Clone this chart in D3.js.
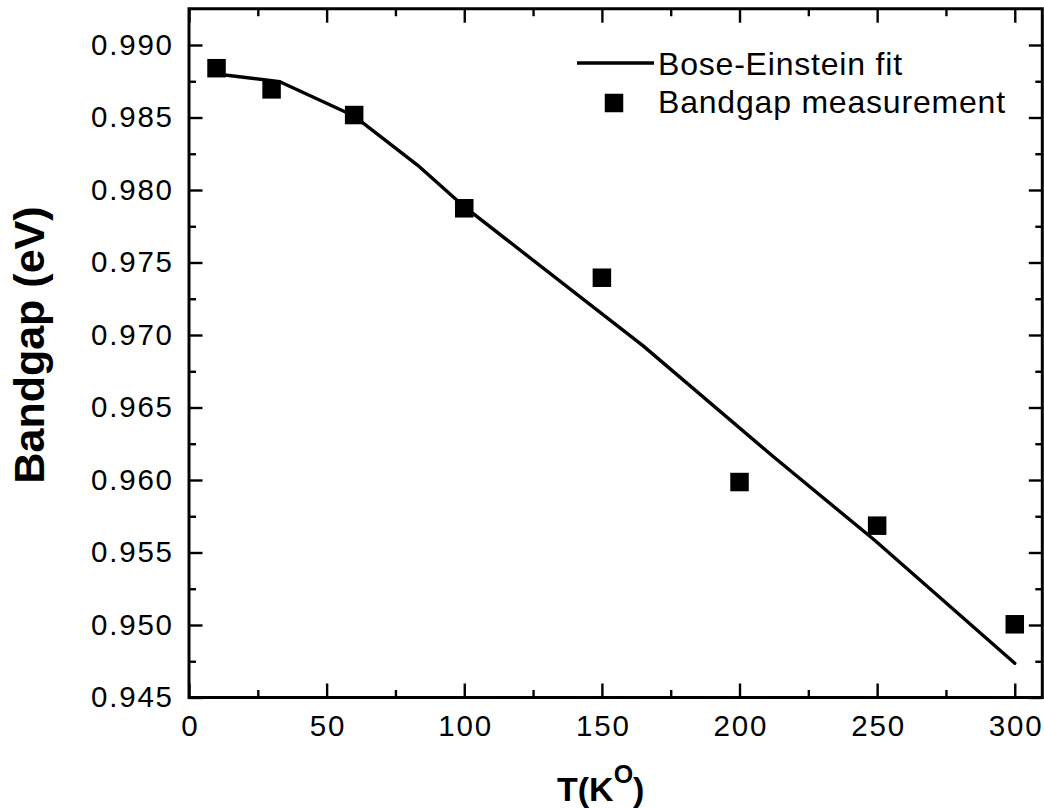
<!DOCTYPE html>
<html>
<head>
<meta charset="utf-8">
<script src="https://cdn.jsdelivr.net/npm/d3@7"></script>
<style>
  html, body { margin: 0; padding: 0; background: #fff; }
  svg { display: block; font-family: "Liberation Sans", Arial, sans-serif; }
</style>
</head>
<body>
<svg id="chart" width="1044" height="809"></svg>
<script>
// ---- data ----
const tempMeas = [10, 30, 60, 100, 150, 200, 250, 300];
const gapMeas = [0.98840, 0.98694, 0.98517, 0.97874, 0.97395, 0.95986, 0.95685, 0.95005];
const tempFit = [10, 33, 60, 83, 100, 165, 212, 249, 300];
const gapFit = [0.98800, 0.98747, 0.98510, 0.98172, 0.97885, 0.96925, 0.96165, 0.95586, 0.94736];
const xMajorTicks = [0, 50, 100, 150, 200, 250, 300];
const xMinorTicks = [25, 75, 125, 175, 225, 275];
const yMajorTicks = [0.945, 0.950, 0.955, 0.960, 0.965, 0.970, 0.975, 0.980, 0.985, 0.990];
const yMinorTicks = [0.9475, 0.9525, 0.9575, 0.9625, 0.9675, 0.9725, 0.9775, 0.9825, 0.9875];
const legendLabels = ["Bose-Einstein fit", "Bandgap measurement"];
const xTitle = "T(K";
const xTitleSup = "O";
const yTitle = "Bandgap (eV)";

const svg = d3.select("#chart");
const L = 189, R = 1042.3, T = 8.75, B = 697.5;
const x = d3.scaleLinear().domain([0, 310]).range([L, R]);
const y = d3.scaleLinear().domain([0.945, 0.9925]).range([B, T]);

const tickStroke = 2.4;
const FS = 29.5; // tick label font size
const LS = 1.8;  // letter spacing of tick labels

function styleAxis(g) {
  g.select(".domain").remove();
  g.selectAll(".tick line").attr("stroke", "#000").attr("stroke-width", tickStroke);
}

// bottom axis (major with labels)
const gb = svg.append("g").attr("transform", `translate(0,${B})`)
  .call(d3.axisBottom(x).tickValues(xMajorTicks).tickSizeInner(-14).tickSizeOuter(0)
    .tickPadding(18).tickFormat(d3.format("d")));
styleAxis(gb);
gb.selectAll(".tick text")
  .attr("font-size", FS).attr("fill", "#000")
  .attr("font-family", "'Liberation Sans', Arial, sans-serif")
  .style("letter-spacing", LS + "px")
  .attr("x", LS / 2);
svg.append("g").attr("transform", `translate(0,${B})`)
  .call(d3.axisBottom(x).tickValues(xMinorTicks).tickSizeInner(-7.5).tickSizeOuter(0).tickFormat(""))
  .call(styleAxis);

// top axis
svg.append("g").attr("transform", `translate(0,${T})`)
  .call(d3.axisTop(x).tickValues(xMajorTicks).tickSizeInner(-14).tickSizeOuter(0).tickFormat(""))
  .call(styleAxis);
svg.append("g").attr("transform", `translate(0,${T})`)
  .call(d3.axisTop(x).tickValues(xMinorTicks).tickSizeInner(-7.5).tickSizeOuter(0).tickFormat(""))
  .call(styleAxis);

// left axis
const gl = svg.append("g").attr("transform", `translate(${L},0)`)
  .call(d3.axisLeft(y).tickValues(yMajorTicks).tickSizeInner(-13.5).tickSizeOuter(0)
    .tickPadding(17).tickFormat(d3.format(".3f")));
styleAxis(gl);
gl.selectAll(".tick text")
  .attr("font-size", FS).attr("fill", "#000")
  .attr("font-family", "'Liberation Sans', Arial, sans-serif")
  .style("letter-spacing", LS + "px")
  .attr("x", -17 + LS);
svg.append("g").attr("transform", `translate(${L},0)`)
  .call(d3.axisLeft(y).tickValues(yMinorTicks).tickSizeInner(-7).tickSizeOuter(0).tickFormat(""))
  .call(styleAxis);

// right axis
svg.append("g").attr("transform", `translate(${R},0)`)
  .call(d3.axisRight(y).tickValues(yMajorTicks).tickSizeInner(-13.5).tickSizeOuter(0).tickFormat(""))
  .call(styleAxis);
svg.append("g").attr("transform", `translate(${R},0)`)
  .call(d3.axisRight(y).tickValues(yMinorTicks).tickSizeInner(-7).tickSizeOuter(0).tickFormat(""))
  .call(styleAxis);

// frame
svg.append("rect").attr("x", L).attr("y", T).attr("width", R - L).attr("height", B - T)
  .attr("fill", "none").attr("stroke", "#000").attr("stroke-width", 3);

// fit line
const fitData = tempFit.map((t, i) => [t, gapFit[i]]);
svg.append("path").datum(fitData)
  .attr("fill", "none").attr("stroke", "#000").attr("stroke-width", 3.4)
  .attr("stroke-linejoin", "round").attr("stroke-linecap", "round")
  .attr("d", d3.line().x(d => x(d[0])).y(d => y(d[1])));

// measurement squares
const S = 18.5;
svg.append("g").selectAll("rect").data(tempMeas.map((t, i) => [t, gapMeas[i]])).join("rect")
  .attr("x", d => x(d[0]) - S / 2).attr("y", d => y(d[1]) - S / 2)
  .attr("width", S).attr("height", S).attr("fill", "#000");

// legend
const lg = svg.append("g");
lg.append("line").attr("x1", 577).attr("x2", 654).attr("y1", 63).attr("y2", 63)
  .attr("stroke", "#000").attr("stroke-width", 3.4);
lg.append("text").attr("x", 658).attr("y", 75).text(legendLabels[0])
  .attr("font-size", 32).style("letter-spacing", "0.8px").attr("fill", "#000");
lg.append("rect").attr("x", 614 - S / 2).attr("y", 103 - S / 2).attr("width", S).attr("height", S)
  .attr("fill", "#000");
lg.append("text").attr("x", 658).attr("y", 113).text(legendLabels[1])
  .attr("font-size", 32).style("letter-spacing", "0.8px").attr("fill", "#000");

// axis titles
const xt = svg.append("text").attr("x", 557).attr("y", 801)
  .attr("font-size", 34).attr("font-weight", "bold").attr("fill", "#000");
xt.append("tspan").text(xTitle);
xt.append("tspan").attr("dy", -18).attr("font-size", 25).text(xTitleSup);
xt.append("tspan").attr("dy", 18).text(")");

svg.append("text")
  .attr("transform", `translate(44,345) rotate(-90)`)
  .attr("text-anchor", "middle")
  .attr("font-size", 43).attr("font-weight", "bold").attr("fill", "#000")
  .text(yTitle);
</script>
</body>
</html>
